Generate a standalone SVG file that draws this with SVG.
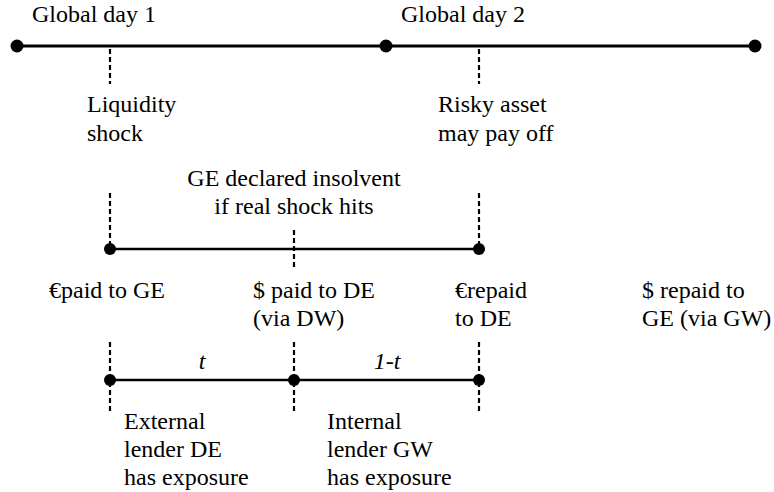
<svg xmlns="http://www.w3.org/2000/svg" width="774" height="492" viewBox="0 0 774 492">
<style>
text{font-family:"Times New Roman","Liberation Serif",Tinos,"Noto Serif","DejaVu Serif",serif;font-size:24px;fill:#000}
.it{font-style:italic}
.mid{text-anchor:middle}
.solid{stroke:#000;fill:none}
.dash{stroke:#000;stroke-width:2.2;stroke-dasharray:5,3;fill:none}
.dot{fill:#000}
</style>
<rect width="774" height="492" fill="#fff"/>
<g id="connectors">
<line class="solid" x1="17" y1="46" x2="755" y2="46" stroke-width="3"/>
<line class="dash" x1="110" y1="49" x2="110" y2="84"/>
<line class="dash" x1="479" y1="49" x2="479" y2="84"/>
<line class="solid" x1="110" y1="249" x2="479" y2="249" stroke-width="2.5"/>
<line class="dash" x1="110" y1="193" x2="110" y2="249"/>
<line class="dash" x1="294" y1="230" x2="294" y2="269"/>
<line class="dash" x1="479" y1="193" x2="479" y2="249"/>
<line class="solid" x1="110" y1="380" x2="479" y2="380" stroke-width="2.5"/>
<line class="dash" x1="110" y1="342" x2="110" y2="413"/>
<line class="dash" x1="294" y1="342" x2="294" y2="413"/>
<line class="dash" x1="479" y1="342" x2="479" y2="413"/>
</g>
<g id="day1"><circle class="dot" cx="17" cy="46" r="6.5"/><text x="32" y="22">Global day 1</text></g>
<g id="day2"><circle class="dot" cx="386" cy="46" r="6.5"/><text x="401" y="22">Global day 2</text></g>
<g id="end"><circle class="dot" cx="755" cy="46" r="6.5"/></g>
<g id="liquidity"><text x="87" y="112">Liquidity</text><text x="87" y="141">shock</text></g>
<g id="risky"><text x="438" y="112">Risky asset</text><text x="438" y="141">may pay off</text></g>
<g id="insolvent"><text class="mid" x="294" y="186">GE declared insolvent</text><text class="mid" x="294" y="214">if real shock hits</text></g>
<g id="m1"><circle class="dot" cx="110" cy="249" r="6"/><text x="49" y="298">€paid to GE</text></g>
<g id="m2"><text x="253" y="298">$ paid to DE</text><text x="253" y="326">(via DW)</text></g>
<g id="m3"><circle class="dot" cx="479" cy="249" r="6"/><text x="455" y="298">€repaid</text><text x="455" y="326">to DE</text></g>
<g id="m4"><text x="642" y="298">$ repaid to</text><text x="642" y="326">GE (via GW)</text></g>
<g id="b1"><circle class="dot" cx="110" cy="380" r="6"/><text class="it mid" x="202" y="369">t</text></g>
<g id="b2"><circle class="dot" cx="294" cy="380" r="6"/><text class="it mid" x="387" y="369">1-t</text></g>
<g id="b3"><circle class="dot" cx="479" cy="380" r="6"/></g>
<g id="external"><text x="124" y="429">External</text><text x="124" y="457">lender DE</text><text x="124" y="485">has exposure</text></g>
<g id="internal"><text x="327" y="429">Internal</text><text x="327" y="457">lender GW</text><text x="327" y="485">has exposure</text></g>
</svg>
